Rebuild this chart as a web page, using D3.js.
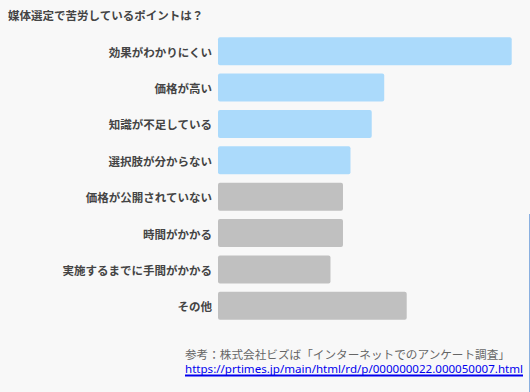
<!DOCTYPE html>
<html>
<head>
<meta charset="utf-8">
<title>媒体選定で苦労しているポイントは？</title>
<script src="https://d3js.org/d3.v7.min.js"></script>
<style>
  html, body { margin: 0; padding: 0; background: #f8f8f8; }
  svg { display: block; font-family: "Noto Sans CJK JP", "Noto Sans", sans-serif; }
</style>
</head>
<body>
<script>

var categories = ["効果がわかりにくい", "価格が高い", "知識が不足している", "選択肢が分からない",
                  "価格が公開されていない", "時間がかかる", "実施するまでに手間がかかる", "その他"];
var values = [47, 26.6, 24.6, 21.2, 20, 20, 18, 30.2];
var highlighted = [true, true, true, true, false, false, false, false];

var title = "媒体選定で苦労しているポイントは？";
var sourceText = "参考：株式会社ビズば「インターネットでのアンケート調査」";
var sourceUrl = "https://prtimes.jp/main/html/rd/p/000000022.000050007.html";

var width = 530, height = 392;

var svg = d3.select("body").append("svg")
    .attr("width", width)
    .attr("height", height);

svg.append("rect")
    .attr("width", width)
    .attr("height", height)
    .attr("fill", "#f8f8f8");

var y = d3.scaleBand()
    .domain(categories)
    .range([33, 324])
    .paddingInner(0.23)
    .paddingOuter(0.115);

var x = d3.scaleLinear()
    .domain([0, 47])
    .range([218, 511.7]);

svg.append("text")
    .attr("x", 8)
    .attr("y", 15)
    .attr("dominant-baseline", "central")
    .attr("font-size", 11.5)
    .attr("font-weight", "bold")
    .attr("fill", "#444")
    .text(title);

svg.append("g")
  .selectAll("rect")
  .data(categories)
  .enter().append("rect")
    .attr("x", x(0))
    .attr("y", function(d) { return y(d); })
    .attr("width", function(d, i) { return x(values[i]) - x(0); })
    .attr("height", y.bandwidth())
    .attr("rx", 2)
    .attr("fill", function(d, i) { return highlighted[i] ? "#abdafb" : "#c0c0c0"; });

svg.append("g")
  .selectAll("text")
  .data(categories)
  .enter().append("text")
    .attr("x", 212)
    .attr("y", function(d) { return y(d) + y.bandwidth() / 2 + 0.5; })
    .attr("dominant-baseline", "central")
    .attr("text-anchor", "end")
    .attr("font-size", 11.5)
    .attr("font-weight", "bold")
    .attr("fill", "#444")
    .text(function(d) { return d; });

svg.append("text")
    .attr("x", 185)
    .attr("y", 353.5)
    .attr("dominant-baseline", "central")
    .attr("font-size", 11.5)
    .attr("fill", "#666")
    .attr("textLength", 325)
    .attr("lengthAdjust", "spacingAndGlyphs")
    .text(sourceText);

svg.append("text")
    .attr("x", 185)
    .attr("y", 368)
    .attr("dominant-baseline", "central")
    .attr("font-size", 11.5)
    .attr("font-family", "'Noto Sans', sans-serif")
    .attr("fill", "#0000ee")
    .attr("textLength", 338)
    .attr("lengthAdjust", "spacingAndGlyphs")
    .text(sourceUrl);

svg.append("line")
    .attr("x1", 185).attr("x2", 523)
    .attr("y1", 375.5).attr("y2", 375.5)
    .attr("stroke", "#0000ee")
    .attr("stroke-width", 2);

// thin edge line on the right
svg.append("line")
    .attr("x1", 529.5).attr("x2", 529.5)
    .attr("y1", 214).attr("y2", height)
    .attr("stroke", "#8ab0e0")
    .attr("stroke-width", 1);
</script>
</body>
</html>
